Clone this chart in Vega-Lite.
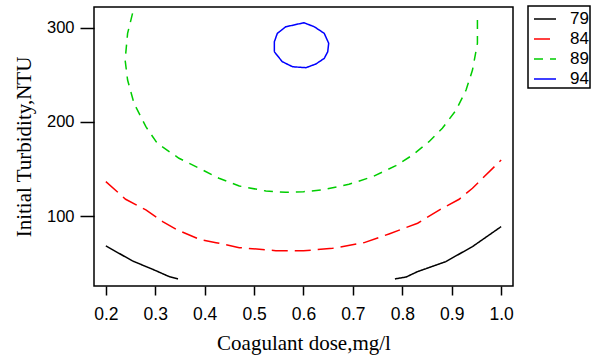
{
  "$schema": "https://vega.github.io/schema/vega-lite/v6.json",
  "width": 419,
  "height": 279,
  "autosize": {"type": "none"},
  "padding": {"left": 94, "top": 7, "right": 97, "bottom": 73},
  "background": "white",
  "data": {
    "values": [
      {"level": "79", "seg": "79a", "o": 1, "x": 0.2, "y": 68.5},
      {"level": "79", "seg": "79a", "o": 2, "x": 0.254, "y": 52.6},
      {"level": "79", "seg": "79a", "o": 3, "x": 0.301, "y": 42.3},
      {"level": "79", "seg": "79a", "o": 4, "x": 0.328, "y": 36},
      {"level": "79", "seg": "79a", "o": 5, "x": 0.346, "y": 33.5},
      {"level": "79", "seg": "79b", "o": 1, "x": 0.785, "y": 33.5},
      {"level": "79", "seg": "79b", "o": 2, "x": 0.808, "y": 35.6},
      {"level": "79", "seg": "79b", "o": 3, "x": 0.831, "y": 41.3},
      {"level": "79", "seg": "79b", "o": 4, "x": 0.888, "y": 51.9},
      {"level": "79", "seg": "79b", "o": 5, "x": 0.942, "y": 67.8},
      {"level": "79", "seg": "79b", "o": 6, "x": 1.0, "y": 89},
      {"level": "84", "seg": "84", "o": 1, "x": 0.2, "y": 136.7},
      {"level": "84", "seg": "84", "o": 2, "x": 0.24, "y": 118},
      {"level": "84", "seg": "84", "o": 3, "x": 0.281, "y": 106.7},
      {"level": "84", "seg": "84", "o": 4, "x": 0.315, "y": 94.3},
      {"level": "84", "seg": "84", "o": 5, "x": 0.342, "y": 86.2},
      {"level": "84", "seg": "84", "o": 6, "x": 0.389, "y": 75.6},
      {"level": "84", "seg": "84", "o": 7, "x": 0.423, "y": 72},
      {"level": "84", "seg": "84", "o": 8, "x": 0.47, "y": 66.7},
      {"level": "84", "seg": "84", "o": 9, "x": 0.544, "y": 63.5},
      {"level": "84", "seg": "84", "o": 10, "x": 0.6, "y": 63.3},
      {"level": "84", "seg": "84", "o": 11, "x": 0.659, "y": 66},
      {"level": "84", "seg": "84", "o": 12, "x": 0.723, "y": 72},
      {"level": "84", "seg": "84", "o": 13, "x": 0.773, "y": 81.2},
      {"level": "84", "seg": "84", "o": 14, "x": 0.831, "y": 92.6},
      {"level": "84", "seg": "84", "o": 15, "x": 0.881, "y": 108.5},
      {"level": "84", "seg": "84", "o": 16, "x": 0.915, "y": 118},
      {"level": "84", "seg": "84", "o": 17, "x": 0.942, "y": 129.7},
      {"level": "84", "seg": "84", "o": 18, "x": 1.0, "y": 159.7},
      {"level": "89", "seg": "89", "o": 1, "x": 0.254, "y": 315.3},
      {"level": "89", "seg": "89", "o": 2, "x": 0.244, "y": 294},
      {"level": "89", "seg": "89", "o": 3, "x": 0.239, "y": 265.7},
      {"level": "89", "seg": "89", "o": 4, "x": 0.244, "y": 244.5},
      {"level": "89", "seg": "89", "o": 5, "x": 0.257, "y": 219.8},
      {"level": "89", "seg": "89", "o": 6, "x": 0.281, "y": 195},
      {"level": "89", "seg": "89", "o": 7, "x": 0.304, "y": 177.4},
      {"level": "89", "seg": "89", "o": 8, "x": 0.348, "y": 161.5},
      {"level": "89", "seg": "89", "o": 9, "x": 0.389, "y": 150.9},
      {"level": "89", "seg": "89", "o": 10, "x": 0.429, "y": 140.3},
      {"level": "89", "seg": "89", "o": 11, "x": 0.47, "y": 132.1},
      {"level": "89", "seg": "89", "o": 12, "x": 0.524, "y": 126.8},
      {"level": "89", "seg": "89", "o": 13, "x": 0.564, "y": 125.4},
      {"level": "89", "seg": "89", "o": 14, "x": 0.6, "y": 126},
      {"level": "89", "seg": "89", "o": 15, "x": 0.638, "y": 127.9},
      {"level": "89", "seg": "89", "o": 16, "x": 0.692, "y": 133.9},
      {"level": "89", "seg": "89", "o": 17, "x": 0.74, "y": 142},
      {"level": "89", "seg": "89", "o": 18, "x": 0.787, "y": 153.7},
      {"level": "89", "seg": "89", "o": 19, "x": 0.821, "y": 165},
      {"level": "89", "seg": "89", "o": 20, "x": 0.854, "y": 179.1},
      {"level": "89", "seg": "89", "o": 21, "x": 0.881, "y": 193.3},
      {"level": "89", "seg": "89", "o": 22, "x": 0.909, "y": 212.7},
      {"level": "89", "seg": "89", "o": 23, "x": 0.929, "y": 233.9},
      {"level": "89", "seg": "89", "o": 24, "x": 0.942, "y": 255.1},
      {"level": "89", "seg": "89", "o": 25, "x": 0.952, "y": 283.5},
      {"level": "89", "seg": "89", "o": 26, "x": 0.952, "y": 315.3},
      {"level": "94", "seg": "94", "o": 1, "x": 0.541, "y": 274.5},
      {"level": "94", "seg": "94", "o": 2, "x": 0.541, "y": 285.1},
      {"level": "94", "seg": "94", "o": 3, "x": 0.547, "y": 294},
      {"level": "94", "seg": "94", "o": 4, "x": 0.564, "y": 301},
      {"level": "94", "seg": "94", "o": 5, "x": 0.601, "y": 305.3},
      {"level": "94", "seg": "94", "o": 6, "x": 0.622, "y": 301},
      {"level": "94", "seg": "94", "o": 7, "x": 0.642, "y": 294},
      {"level": "94", "seg": "94", "o": 8, "x": 0.651, "y": 283.5},
      {"level": "94", "seg": "94", "o": 9, "x": 0.649, "y": 274.5},
      {"level": "94", "seg": "94", "o": 10, "x": 0.642, "y": 267.5},
      {"level": "94", "seg": "94", "o": 11, "x": 0.625, "y": 261.5},
      {"level": "94", "seg": "94", "o": 12, "x": 0.605, "y": 257.6},
      {"level": "94", "seg": "94", "o": 13, "x": 0.578, "y": 258.6},
      {"level": "94", "seg": "94", "o": 14, "x": 0.557, "y": 264},
      {"level": "94", "seg": "94", "o": 15, "x": 0.541, "y": 274.5}
    ]
  },
  "mark": {"type": "line", "strokeWidth": 1.5, "clip": true},
  "encoding": {
    "x": {
      "field": "x", "type": "quantitative",
      "scale": {"domain": [0.176, 1.024], "nice": false, "zero": false},
      "axis": {"title": "Coagulant dose,mg/l", "values": [0.2, 0.3, 0.4, 0.5, 0.6, 0.7, 0.8, 0.9, 1.0], "format": ".1f", "tickSize": 9, "labelFontSize": 17.5, "labelPadding": 10, "titlePadding": 10, "titleFontSize": 21}
    },
    "y": {
      "field": "y", "type": "quantitative",
      "scale": {"domain": [26, 322], "nice": false, "zero": false},
      "axis": {"title": "Initial Turbidity,NTU", "values": [100, 200, 300], "tickSize": 14, "labelFontSize": 16.5, "labelPadding": 6, "titlePadding": 12, "titleFontSize": 21}
    },
    "color": {
      "field": "level", "type": "nominal",
      "scale": {"domain": ["79", "84", "89", "94"], "range": ["#000000", "#FF0000", "#00CD00", "#0000FF"]},
      "legend": {"title": null, "labelExpr": "datum.label + '\u00a0\u00a0\u00a0\u00a0\u00a0\u00a0'"}
    },
    "strokeDash": {
      "field": "level", "type": "nominal",
      "scale": {"domain": ["79", "84", "89", "94"], "range": [[1, 0], [16, 7], [9, 7], [1, 0]]},
      "legend": {"title": null, "labelExpr": "datum.label + '\u00a0\u00a0\u00a0\u00a0\u00a0\u00a0'"}
    },
    "detail": {"field": "seg"},
    "order": {"field": "o", "type": "quantitative"}
  },
  "config": {
    "view": {"stroke": "#000000", "strokeWidth": 1.5},
    "axis": {
      "grid": false, "domain": false,
      "tickColor": "#000000", "tickWidth": 1.5,
      "labelColor": "#000000", "labelFont": "Liberation Sans",
      "titleColor": "#000000", "titleFont": "Liberation Serif", "titleFontWeight": "normal"
    },
    "legend": {
      "orient": "none", "legendX": 434, "legendY": -1,
      "strokeColor": "#000000", "strokeWidth": 1.5, "padding": 1,
      "symbolType": "stroke", "symbolSize": 484, "symbolStrokeWidth": 1.5, "symbolOffset": 4,
      "labelFont": "Liberation Sans", "labelFontSize": 17, "labelColor": "#000000",
      "labelOffset": 13, "rowPadding": 0
    }
  }
}
